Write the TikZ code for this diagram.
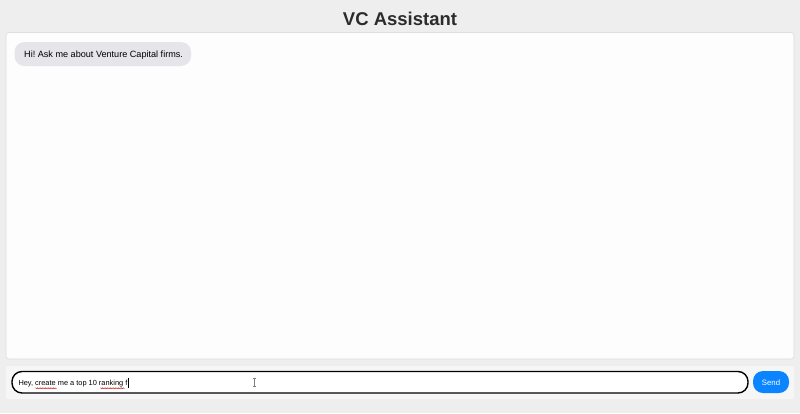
\documentclass[tikz,border=0pt]{standalone}
\usepackage{fontspec}
\setmainfont{Liberation Sans}
\frenchspacing
\usetikzlibrary{decorations.pathmorphing}
\definecolor{pagebg}{HTML}{EEEEEE}
\definecolor{panelbg}{HTML}{FDFDFE}
\definecolor{panelline}{HTML}{DDDDDD}
\definecolor{barbg}{HTML}{F6F6F7}
\definecolor{bubblebg}{HTML}{E5E5EA}
\definecolor{titlecol}{HTML}{2B2B2B}
\definecolor{sendblue}{HTML}{0A84FF}
\definecolor{squig}{HTML}{D04040}
\tikzset{
  panelbox/.style={draw=panelline, line width=0.6pt, fill=panelbg, rounded corners=3pt},
  barbox/.style={fill=barbg, rounded corners=2pt},
  fieldbox/.style={draw=black, line width=1.4pt, fill=white, rounded corners=10pt},
  sendbox/.style={fill=sendblue, rounded corners=10pt},
  squiggle/.style={squig, line width=0.5pt, decorate, decoration={zigzag, amplitude=0.5pt, segment length=1.6pt}},
}
\begin{document}
\begin{tikzpicture}[x=1pt,y=-1pt]
\useasboundingbox (0,0) rectangle (800,413);
\fill[pagebg] (0,0) rectangle (800,413);
% title
\node[font=\bfseries\fontsize{18.5}{20}\selectfont, text=titlecol, inner sep=0pt, anchor=base] (title) at (400,25) {VC Assistant};
% chat panel
\draw[panelbox] (6,32.5) rectangle (794,359);
\coordinate (panel) at (400,196);
% bubble
\fill[bubblebg, rounded corners=10pt] (14.5,42) rectangle (191,66);
\node[font=\fontsize{9.1}{11}\selectfont, text=black, inner sep=0pt, anchor=base west] (bubble) at (24,57.3) {Hi! Ask me about Venture Capital firms.};
% input bar
\fill[barbox] (6,366) rectangle (794,399);
\draw[fieldbox] (12,371.5) rectangle (748,393);
\node[font=\fontsize{7.4}{9}\selectfont, text=black, inner sep=0pt, anchor=base west] (input) at (18.3,385.5) {Hey, create me a top 10 ranking f};
% spellcheck squiggles
\draw[squiggle] (35.5,388.3) -- (56.5,388.3);
\draw[squiggle] (100.5,388.3) -- (124.5,388.3);
% text caret
\fill[black] (127.6,377.5) rectangle (129.4,388);
% mouse I-beam
\draw[gray, line width=0.6pt] (254.3,378.3) -- (254.3,385.8);
\draw[gray, line width=0.6pt] (252.8,378.3) -- (255.8,378.3);
\draw[gray, line width=0.6pt] (252.8,385.8) -- (255.8,385.8);
% send button
\fill[sendbox] (753,371) rectangle (789,393);
\node[font=\fontsize{7.8}{9}\selectfont, text=white, inner sep=0pt] (send) at (771,382.3) {Send};
\end{tikzpicture}
\end{document}
